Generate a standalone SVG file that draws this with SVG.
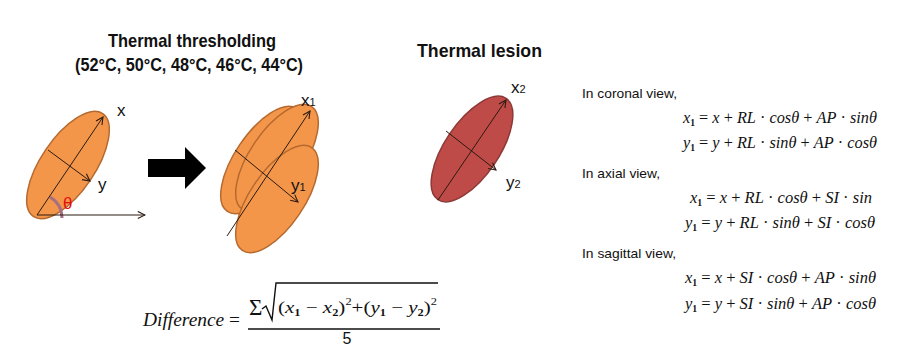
<svg xmlns="http://www.w3.org/2000/svg" width="899" height="357" viewBox="0 0 899 357">
<style>
.bg{fill:#ffffff}
.orange{fill:#F4964A;stroke:#B5692E;stroke-width:1.5}
.red{fill:#BE4B48;stroke:#8C3836;stroke-width:1.5}
.ax{stroke:#2a1a10;stroke-width:1;fill:none}
.title{font-family:"Liberation Sans",Arial,sans-serif;font-weight:bold;font-size:19px;fill:#111}
.lbl{font-family:"Liberation Sans",Arial,sans-serif;font-size:17px;fill:#111}
.sub{font-size:11px}
.view{font-family:"Liberation Sans",Arial,sans-serif;font-size:13px;fill:#111}
.eq{font-family:"Liberation Serif","Times New Roman",serif;font-style:italic;font-size:17px;fill:#111}
.es{font-size:10px;font-style:normal;font-weight:bold}
.up{font-style:normal}
</style>
<defs>
<marker id="open" viewBox="0 0 10 10" refX="9" refY="5" markerWidth="9" markerHeight="9" markerUnits="userSpaceOnUse" orient="auto">
<path d="M1,1 L9,5 L1,9" fill="none" stroke="#2a1a10" stroke-width="1.2"/>
</marker>
</defs>
<rect class="bg" x="0" y="0" width="899" height="357"/>

<g id="titles">
<text class="title" x="108" y="47" textLength="168" lengthAdjust="spacingAndGlyphs">Thermal thresholding</text>
<text class="title" x="75" y="71" textLength="228" lengthAdjust="spacingAndGlyphs">(52°C, 50°C, 48°C, 46°C, 44°C)</text>
<text class="title" x="417" y="57" textLength="125" lengthAdjust="spacingAndGlyphs">Thermal lesion</text>
</g>

<g id="original-ellipse">
<ellipse class="orange" cx="68" cy="165" rx="27" ry="62" transform="rotate(34 68 165)"/>
<path d="M50,197 A25,25 0 0 1 62,218" fill="none" stroke="#A56E83" stroke-width="3"/>
<text class="lbl" x="117" y="116">x</text>
<text class="lbl" x="98" y="190">y</text>
<text class="lbl" x="63" y="209" style="fill:#E01010">θ</text>
</g>

<g id="block-arrow">
<polygon points="148,159 185,159 185,147 206,168 185,189 185,177 148,177" fill="#000"/>
</g>

<g id="threshold-ellipses">
<ellipse class="orange" cx="262" cy="160" rx="27" ry="62" transform="rotate(34 262 160)"/>
<ellipse class="orange" cx="277" cy="158" rx="27" ry="62" transform="rotate(34 277 158)"/>
<ellipse class="orange" cx="277" cy="199" rx="27" ry="62" transform="rotate(34 277 199)"/>
<text class="lbl" x="301" y="106">x<tspan class="sub">1</tspan></text>
<text class="lbl" x="291" y="191">y<tspan class="sub">1</tspan></text>
</g>

<g id="lesion">
<ellipse class="red" cx="472" cy="149" rx="27" ry="61" transform="rotate(34 472 149)"/>
<text class="lbl" x="511" y="93">x<tspan class="sub">2</tspan></text>
<text class="lbl" x="506" y="188">y<tspan class="sub">2</tspan></text>
</g>

<g id="connectors">
<line class="ax" x1="37" y1="215" x2="103" y2="117" marker-end="url(#open)"/>
<line class="ax" x1="48" y1="150" x2="90" y2="181" marker-end="url(#open)"/>
<line class="ax" x1="37" y1="215" x2="145" y2="215" marker-end="url(#open)"/>
<line class="ax" x1="227" y1="236" x2="310" y2="111" marker-end="url(#open)"/>
<line class="ax" x1="235" y1="150" x2="298" y2="202" marker-end="url(#open)"/>
<line class="ax" x1="438" y1="200" x2="506" y2="100" marker-end="url(#open)"/>
<line class="ax" x1="446" y1="131" x2="496" y2="170" marker-end="url(#open)"/>
</g>

<g id="equations">
<text class="view" x="582" y="98" textLength="95" lengthAdjust="spacingAndGlyphs">In coronal view,</text>
<text class="eq" x="683" y="123" textLength="194" lengthAdjust="spacingAndGlyphs">x<tspan class="es" dy="3">1</tspan><tspan dy="-3"><tspan class="up"> = </tspan>x<tspan class="up"> + </tspan>RL<tspan class="up"> · </tspan>cosθ<tspan class="up"> + </tspan>AP<tspan class="up"> · </tspan>sinθ</tspan></text>
<text class="eq" x="683" y="148" textLength="194" lengthAdjust="spacingAndGlyphs">y<tspan class="es" dy="3">1</tspan><tspan dy="-3"><tspan class="up"> = </tspan>y<tspan class="up"> + </tspan>RL<tspan class="up"> · </tspan>sinθ<tspan class="up"> + </tspan>AP<tspan class="up"> · </tspan>cosθ</tspan></text>
<text class="view" x="582" y="178" textLength="78" lengthAdjust="spacingAndGlyphs">In axial view,</text>
<text class="eq" x="690" y="203" textLength="182" lengthAdjust="spacingAndGlyphs">x<tspan class="es" dy="3">1</tspan><tspan dy="-3"><tspan class="up"> = </tspan>x<tspan class="up"> + </tspan>RL<tspan class="up"> · </tspan>cosθ<tspan class="up"> + </tspan>SI<tspan class="up"> · </tspan>sin</tspan></text>
<text class="eq" x="685" y="228" textLength="190" lengthAdjust="spacingAndGlyphs">y<tspan class="es" dy="3">1</tspan><tspan dy="-3"><tspan class="up"> = </tspan>y<tspan class="up"> + </tspan>RL<tspan class="up"> · </tspan>sinθ<tspan class="up"> + </tspan>SI<tspan class="up"> · </tspan>cosθ</tspan></text>
<text class="view" x="582" y="258" textLength="94" lengthAdjust="spacingAndGlyphs">In sagittal view,</text>
<text class="eq" x="685" y="283" textLength="191" lengthAdjust="spacingAndGlyphs">x<tspan class="es" dy="3">1</tspan><tspan dy="-3"><tspan class="up"> = </tspan>x<tspan class="up"> + </tspan>SI<tspan class="up"> · </tspan>cosθ<tspan class="up"> + </tspan>AP<tspan class="up"> · </tspan>sinθ</tspan></text>
<text class="eq" x="685" y="309" textLength="191" lengthAdjust="spacingAndGlyphs">y<tspan class="es" dy="3">1</tspan><tspan dy="-3"><tspan class="up"> = </tspan>y<tspan class="up"> + </tspan>SI<tspan class="up"> · </tspan>sinθ<tspan class="up"> + </tspan>AP<tspan class="up"> · </tspan>cosθ</tspan></text>
</g>

<g id="difference-formula">
<text class="eq" x="143" y="326" style="font-size:19px" textLength="97" lengthAdjust="spacingAndGlyphs">Difference<tspan class="up"> =</tspan></text>
<text x="249" y="315" style="font-family:'Liberation Serif',serif;font-size:23px;fill:#111">Σ</text>
<path d="M262,309 L266,306 L272,320 L276,283 L438,283" fill="none" stroke="#111" stroke-width="1.4"/>
<text class="eq" x="278" y="313" textLength="159" lengthAdjust="spacingAndGlyphs"><tspan class="up">(</tspan>x<tspan class="es" dy="3">1</tspan><tspan class="up" dy="-3"> − </tspan>x<tspan class="es" dy="3">2</tspan><tspan class="up" dy="-3">)</tspan><tspan class="es" style="font-weight:normal" dy="-8">2</tspan><tspan class="up" dy="8">+(</tspan>y<tspan class="es" dy="3">1</tspan><tspan class="up" dy="-3"> − </tspan>y<tspan class="es" dy="3">2</tspan><tspan class="up" dy="-3">)</tspan><tspan class="es" style="font-weight:normal" dy="-8">2</tspan></text>
<line x1="248" y1="329" x2="440" y2="329" stroke="#111" stroke-width="1.3"/>
<text x="347" y="344" text-anchor="middle" style="font-family:'Liberation Sans',Arial,sans-serif;font-size:16px;fill:#111">5</text>
</g>
</svg>
